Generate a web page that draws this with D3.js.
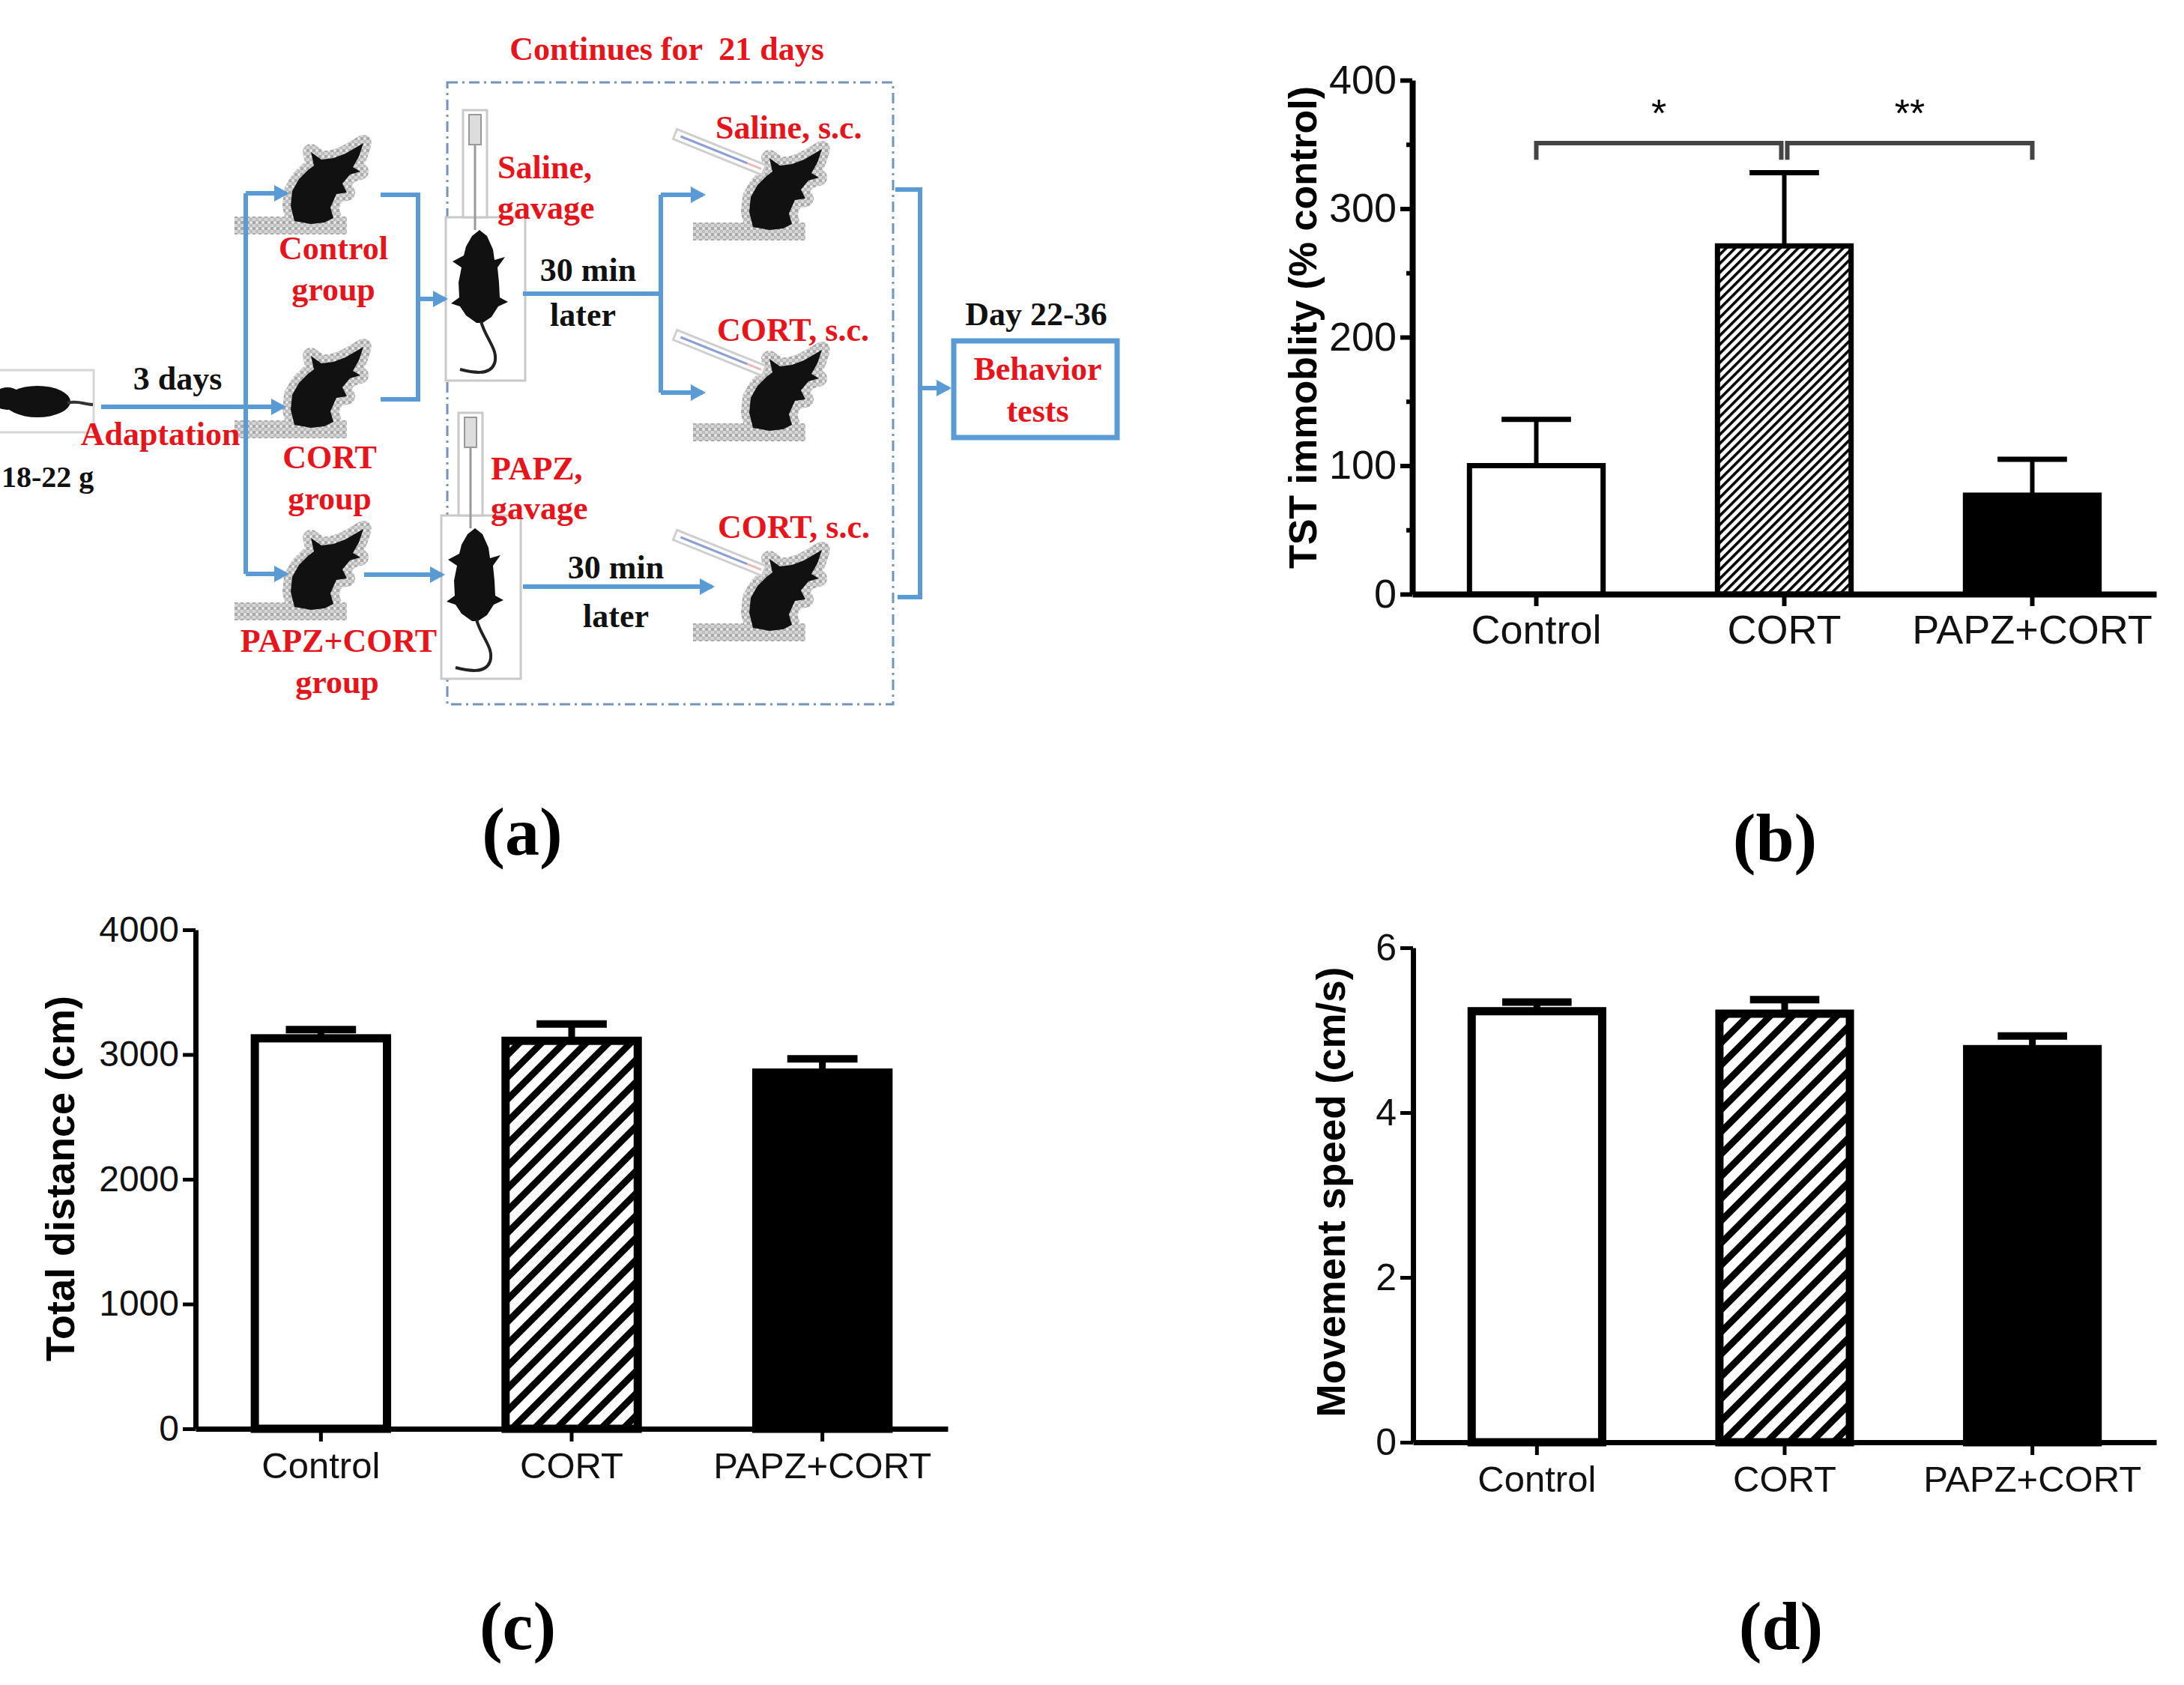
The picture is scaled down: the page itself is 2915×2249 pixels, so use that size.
<!DOCTYPE html>
<html>
<head>
<meta charset="utf-8">
<script src="https://cdn.jsdelivr.net/npm/d3@7"></script>
<style>
  body { margin: 0; background: #fff; }
  svg { display: block; }
</style>
</head>
<body>
<div id="fig"></div>
<script>
// ---- data ----
const groups = ['Control', 'CORT', 'PAPZ+CORT'];

const tstMean = [100, 271, 77];
const tstErr = [36, 57, 28];
const tstTicks = [0, 100, 200, 300, 400];
const tstMinor = [50, 150, 250, 350];

const distMean = [3130, 3110, 2855];
const distErr = [70, 135, 110];
const distTicks = [0, 1000, 2000, 3000, 4000];

const speedMean = [5.23, 5.20, 4.77];
const speedErr = [0.11, 0.17, 0.16];
const speedTicks = [0, 2, 4, 6];

// significance brackets on panel (b)
const sigFrom = ['Control', 'CORT'];
const sigTo = ['CORT', 'PAPZ+CORT'];
const sigText = ['*', '**'];
const sigLevel = 351, sigDrop = 338;

const panelLetters = ['(a)', '(b)', '(c)', '(d)'];

const W = 2915, H = 2249;
const BLUE = '#5b9bd5', RED = '#e8141c';
const sans = '"Liberation Sans", Arial, sans-serif';
const serif = '"Liberation Serif", "Times New Roman", serif';

const svg = d3.select('#fig').append('svg')
  .attr('width', W)
  .attr('height', H);

const defs = svg.append('defs');

function hatch(id, period, width) {
  let p = defs.append('pattern')
    .attr('id', id)
    .attr('patternUnits', 'userSpaceOnUse')
    .attr('width', period)
    .attr('height', period)
    .attr('patternTransform', 'rotate(45)');
  p.append('rect').attr('width', period).attr('height', period).attr('fill', 'white');
  p.append('rect').attr('width', width).attr('height', period).attr('fill', 'black');
}
hatch('hatchB', 8.5, 3.6);
hatch('hatchCD', 21, 9);

// speckled grey used behind the mouse pictures
let sp = defs.append('pattern')
  .attr('id', 'speckle')
  .attr('patternUnits', 'userSpaceOnUse')
  .attr('width', 8).attr('height', 8);
sp.append('rect').attr('width', 8).attr('height', 8).attr('fill', '#d6d6d6');
sp.append('rect').attr('x', 0).attr('y', 0).attr('width', 4).attr('height', 4).attr('fill', '#a9a9a9');
sp.append('rect').attr('x', 4).attr('y', 4).attr('width', 4).attr('height', 4).attr('fill', '#bdbdbd');
sp.append('rect').attr('x', 5).attr('y', 1).attr('width', 2).attr('height', 2).attr('fill', '#f0f0f0');

defs.append('marker')
  .attr('id', 'arr')
  .attr('markerUnits', 'userSpaceOnUse')
  .attr('markerWidth', 20).attr('markerHeight', 22)
  .attr('refX', 16).attr('refY', 11)
  .attr('orient', 'auto')
  .append('path')
  .attr('d', 'M0,0 L20,11 L0,22 Z')
  .attr('fill', BLUE);

// ---- bar panels ----
function barPanel(o) {
  let g = svg.append('g');

  let x = d3.scaleBand()
    .domain(groups)
    .range([o.left, o.right])
    .paddingInner(0.44)
    .paddingOuter(0.22);

  let y = d3.scaleLinear()
    .domain([0, o.max])
    .range([o.bottom, o.top]);

  let fills = ['white', `url(#${o.hatch})`, 'black'];
  let rows = groups.map((k, i) => ({ k: k, m: o.mean[i], e: o.err[i], f: fills[i] }));

  // error bars (upper only)
  let cap = x.bandwidth() * 0.25;
  rows.forEach(d => {
    let cx = x(d.k) + x.bandwidth() / 2;
    g.append('line')
      .attr('x1', cx).attr('x2', cx)
      .attr('y1', y(d.m)).attr('y2', y(d.m + d.e))
      .attr('stroke', 'black').attr('stroke-width', o.errW);
    g.append('line')
      .attr('x1', cx - cap).attr('x2', cx + cap)
      .attr('y1', y(d.m + d.e)).attr('y2', y(d.m + d.e))
      .attr('stroke', 'black').attr('stroke-width', o.errW + 1);
  });

  g.selectAll('rect.bar')
    .data(rows)
    .enter()
    .append('rect')
      .attr('class', 'bar')
      .attr('x', d => x(d.k) + o.barW / 2)
      .attr('width', x.bandwidth() - o.barW)
      .attr('y', d => y(d.m))
      .attr('height', d => y(0) - y(d.m))
      .attr('fill', d => d.f)
      .attr('stroke', 'black')
      .attr('stroke-width', o.barW);

  let yAxis = g.append('g')
    .attr('transform', `translate(${o.left},0)`)
    .call(d3.axisLeft(y).tickValues(o.ticks).tickFormat(d => d).tickSize(o.tick).tickSizeOuter(0).tickPadding(5));
  if (o.minor) {
    g.append('g')
      .attr('transform', `translate(${o.left},0)`)
      .call(d3.axisLeft(y).tickValues(o.minor).tickSize(o.tick / 2).tickFormat(''))
      .call(a => a.select('.domain').remove());
  }
  let xAxis = g.append('g')
    .attr('transform', `translate(0,${o.bottom})`)
    .call(d3.axisBottom(x).tickSize(o.tick).tickSizeOuter(0).tickPadding(o.xPad));

  g.selectAll('.domain').attr('stroke', 'black').attr('stroke-width', o.axisW);
  g.selectAll('.tick line').attr('stroke', 'black').attr('stroke-width', o.axisW - 2);
  yAxis.selectAll('text')
    .style('font-family', sans).style('font-size', o.tickFont + 'px').attr('fill', '#111');
  xAxis.selectAll('text')
    .style('font-family', sans).style('font-size', o.labelFont + 'px').attr('fill', '#111');

  g.append('text')
    .attr('transform', `translate(${o.titleX},${(o.top + o.bottom) / 2 + o.titleDy}) rotate(-90)`)
    .attr('text-anchor', 'middle')
    .attr('dominant-baseline', 'central')
    .style('font-family', sans)
    .style('font-weight', 'bold')
    .style('font-size', o.titleFont + 'px')
    .text(o.title);

  return { g: g, x: x, y: y };
}

let pb = barPanel({
  left: 1885, right: 2878, top: 107, bottom: 793, max: 400,
  mean: tstMean, err: tstErr, ticks: tstTicks, minor: tstMinor,
  hatch: 'hatchB', barW: 7, errW: 6, axisW: 8, tick: 16, xPad: 12,
  tickFont: 54, labelFont: 54,
  title: 'TST immoblity (% control)', titleX: 1739, titleDy: -13, titleFont: 52
});

let pc = barPanel({
  left: 261, right: 1265, top: 1241, bottom: 1907, max: 4000,
  mean: distMean, err: distErr, ticks: distTicks, minor: null,
  hatch: 'hatchCD', barW: 11, errW: 9, axisW: 7, tick: 17, xPad: 14,
  tickFont: 48, labelFont: 49,
  title: 'Total distance (cm)', titleX: 80, titleDy: -1, titleFont: 54
});

let pd = barPanel({
  left: 1886, right: 2878, top: 1265, bottom: 1925, max: 6,
  mean: speedMean, err: speedErr, ticks: speedTicks, minor: null,
  hatch: 'hatchCD', barW: 11, errW: 9, axisW: 7, tick: 17, xPad: 14,
  tickFont: 50, labelFont: 49,
  title: 'Movement speed (cm/s)', titleX: 1776, titleDy: -4, titleFont: 53
});

// significance brackets
sigFrom.forEach((f, i) => {
  let bx = pb.x, by = pb.y, hw = bx.bandwidth() / 2;
  let x1 = bx(f) + hw + (i === 1 ? 4 : 0);
  let x2 = bx(sigTo[i]) + hw - (i === 0 ? 4 : 0);
  pb.g.append('path')
    .attr('d', `M${x1},${by(sigDrop)} V${by(sigLevel)} H${x2} V${by(sigDrop)}`)
    .attr('fill', 'none')
    .attr('stroke', '#444')
    .attr('stroke-width', 6);
  pb.g.append('text')
    .attr('x', (x1 + x2) / 2)
    .attr('y', by(sigLevel) - 22)
    .attr('text-anchor', 'middle')
    .style('font-family', sans)
    .style('font-size', '52px')
    .text(sigText[i]);
});

// panel letters
const letterPos = [[697, 1141], [2369, 1149], [691, 2201], [2377, 2201]];
svg.selectAll('text.letter')
  .data(panelLetters)
  .enter()
  .append('text')
    .attr('class', 'letter')
    .attr('x', (d, i) => letterPos[i][0])
    .attr('y', (d, i) => letterPos[i][1])
    .attr('text-anchor', 'middle')
    .style('font-family', serif)
    .style('font-weight', 'bold')
    .style('font-size', '92px')
    .text(d => d);

// ---- panel (a): experimental design ----
let ga = svg.append('g');

// dash-dot frame of the 21 day period
ga.append('rect')
  .attr('x', 597).attr('y', 110).attr('width', 595).attr('height', 830)
  .attr('fill', 'none')
  .attr('stroke', '#7393b8')
  .attr('stroke-width', 3)
  .attr('stroke-dasharray', '14 6 3 6');

let sitMouse = [[0,0],[-5,-20],[-3,-40],[6,-56],[18,-68],[26,-74],[22,-92],[36,-82],[52,-84],[68,-90],[92,-104],[86,-86],[78,-72],[88,-66],[74,-62],[64,-50],[70,-38],[56,-36],[48,-18],[52,-4],[40,2],[22,4]];
let gavMouse = [[0,0],[10,8],[18,26],[20,40],[34,36],[24,50],[26,70],[27,90],[38,96],[25,102],[16,116],[4,124],[-4,124],[-18,114],[-26,102],[-38,98],[-27,90],[-28,70],[-24,50],[-36,42],[-21,34],[-18,22],[-10,8]];
let lineClosed = d3.line().curve(d3.curveLinearClosed);

function sittingMouse(px, py) {
  let m = ga.append('g').attr('transform', `translate(${px},${py})`);
  m.append('rect').attr('x', -80).attr('y', -6).attr('width', 150).attr('height', 24)
    .attr('fill', 'url(#speckle)');
  m.append('path').attr('d', lineClosed(sitMouse))
    .attr('fill', 'url(#speckle)').attr('stroke', 'url(#speckle)').attr('stroke-width', 22)
    .attr('stroke-linejoin', 'round');
  m.append('path').attr('d', lineClosed(sitMouse)).attr('fill', '#111');
  return m;
}

function gavageMouse(px, py, sy) {
  let m = ga.append('g').attr('transform', `translate(${px},${py})`);
  m.append('rect').attr('x', -45).attr('y', -17).attr('width', 106).attr('height', 218)
    .attr('fill', 'white').attr('stroke', '#c9c9c9').attr('stroke-width', 3);
  // syringe
  m.append('rect').attr('x', -22).attr('y', sy).attr('width', 32).attr('height', -sy - 17)
    .attr('fill', 'white').attr('stroke', '#c9c9c9').attr('stroke-width', 3);
  m.append('rect').attr('x', -14).attr('y', sy + 6).attr('width', 16).attr('height', 40)
    .attr('fill', '#ddd').attr('stroke', '#999').attr('stroke-width', 2);
  m.append('line').attr('x1', -6).attr('x2', -6).attr('y1', sy + 46).attr('y2', 0)
    .attr('stroke', '#9a9a9a').attr('stroke-width', 3);
  m.append('path').attr('d', lineClosed(gavMouse)).attr('fill', '#111');
  m.append('path')
    .attr('d', 'M2,122 C8,145 26,160 20,178 C14,195 -10,190 -26,186')
    .attr('fill', 'none').attr('stroke', '#222').attr('stroke-width', 4);
  return m;
}

function injectedMouse(px, py) {
  let m = sittingMouse(px, py);
  let s = m.append('g').attr('transform', 'translate(-104,-124) rotate(22)');
  s.append('rect').attr('x', 0).attr('y', -7).attr('width', 128).attr('height', 14)
    .attr('fill', 'white').attr('stroke', '#cfcfcf').attr('stroke-width', 3);
  s.append('line').attr('x1', 8).attr('x2', 104).attr('y1', 0).attr('y2', 0)
    .attr('stroke', '#8c9fd6').attr('stroke-width', 3);
  s.append('line').attr('x1', 104).attr('x2', 124).attr('y1', 0).attr('y2', 0)
    .attr('stroke', '#f0b7b7').attr('stroke-width', 3);
}

// starting mouse
ga.append('rect').attr('x', -4).attr('y', 494).attr('width', 129).attr('height', 83)
  .attr('fill', 'none').attr('stroke', '#d5d5d5').attr('stroke-width', 3);
ga.append('ellipse').attr('cx', 50).attr('cy', 536).attr('rx', 44).attr('ry', 21).attr('fill', '#111');
ga.append('ellipse').attr('cx', 10).attr('cy', 532).attr('rx', 20).attr('ry', 15).attr('fill', '#111');
ga.append('path').attr('d', 'M90,538 C104,534 112,540 124,540')
  .attr('fill', 'none').attr('stroke', '#333').attr('stroke-width', 4);

sittingMouse(393, 295);
sittingMouse(393, 567);
sittingMouse(393, 810);
gavageMouse(640, 307, -160);
gavageMouse(634, 705, -154);
injectedMouse(1005, 303);
injectedMouse(1005, 571);
injectedMouse(1005, 838);

// flow lines
const flowLines = [
  { d: 'M135,543 H378', arrow: true },
  { d: 'M328,258 V766', arrow: false },
  { d: 'M328,258 H382', arrow: true },
  { d: 'M328,766 H382', arrow: true },
  { d: 'M508,260 H558 V533 H508', arrow: false },
  { d: 'M558,399 H594', arrow: true },
  { d: 'M486,767 H590', arrow: true },
  { d: 'M698,392 H882', arrow: false },
  { d: 'M882,260 V524', arrow: false },
  { d: 'M882,260 H938', arrow: true },
  { d: 'M882,524 H938', arrow: true },
  { d: 'M698,783 H950', arrow: true },
  { d: 'M1195,253 H1228 V797 H1198', arrow: false },
  { d: 'M1228,518 H1266', arrow: true }
];
ga.selectAll('path.flow')
  .data(flowLines)
  .enter()
  .append('path')
    .attr('class', 'flow')
    .attr('d', d => d.d)
    .attr('fill', 'none')
    .attr('stroke', BLUE)
    .attr('stroke-width', 6)
    .attr('marker-end', d => d.arrow ? 'url(#arr)' : null);

ga.append('rect')
  .attr('x', 1273).attr('y', 455).attr('width', 218).attr('height', 129)
  .attr('fill', 'white')
  .attr('stroke', BLUE)
  .attr('stroke-width', 7);

// diagram texts [text, x, baseline, colour, anchor, size]
const flowText = [
  ['Continues for  21 days', 890, 80, RED, 'middle', 44],
  ['3 days', 237, 520, '#111', 'middle', 44],
  ['Adaptation', 214, 594, RED, 'middle', 44],
  ['18-22 g', 2, 650, '#111', 'start', 40],
  ['Control', 445, 346, RED, 'middle', 44],
  ['group', 445, 401, RED, 'middle', 44],
  ['CORT', 440, 625, RED, 'middle', 44],
  ['group', 440, 680, RED, 'middle', 44],
  ['PAPZ+CORT', 452, 870, RED, 'middle', 44],
  ['group', 450, 925, RED, 'middle', 44],
  ['Saline,', 664, 238, RED, 'start', 44],
  ['gavage', 664, 292, RED, 'start', 44],
  ['PAPZ,', 655, 640, RED, 'start', 44],
  ['gavage', 655, 693, RED, 'start', 44],
  ['30 min', 785, 375, '#111', 'middle', 44],
  ['later', 778, 435, '#111', 'middle', 44],
  ['30 min', 822, 772, '#111', 'middle', 44],
  ['later', 822, 837, '#111', 'middle', 44],
  ['Saline, s.c.', 955, 185, RED, 'start', 44],
  ['CORT, s.c.', 957, 455, RED, 'start', 44],
  ['CORT, s.c.', 958, 718, RED, 'start', 44],
  ['Day 22-36', 1383, 434, '#111', 'middle', 44],
  ['Behavior', 1385, 507, RED, 'middle', 44],
  ['tests', 1385, 563, RED, 'middle', 44]
];
ga.selectAll('text.flow')
  .data(flowText)
  .enter()
  .append('text')
    .attr('class', 'flow')
    .attr('x', d => d[1])
    .attr('y', d => d[2])
    .attr('fill', d => d[3])
    .attr('text-anchor', d => d[4])
    .style('font-family', serif)
    .style('font-weight', 'bold')
    .style('font-size', d => d[5] + 'px')
    .style('white-space', 'pre')
    .text(d => d[0]);
</script>
</body>
</html>
